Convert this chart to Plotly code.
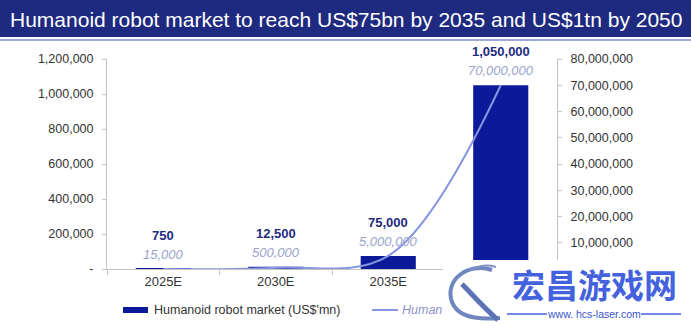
import plotly.graph_objects as go

# Chart data
years = ["2025E", "2030E", "2035E", "2050E"]
market_usd_mn = [750, 12500, 75000, 1050000]
shipments_units = [15000, 500000, 5000000, 70000000]

# category labels along the bottom; the last one sits under the logo panel
year_tick_text = ["2025E", "2030E", "2035E", ""]
left_ticks = [0, 200000, 400000, 600000, 800000, 1000000, 1200000]
left_tick_text = ["-", "200,000", "400,000", "600,000", "800,000", "1,000,000", "1,200,000"]
right_ticks = [10000000, 20000000, 30000000, 40000000, 50000000, 60000000, 70000000, 80000000]
right_tick_text = [f"{v:,}" for v in right_ticks]

title_text = "Humanoid robot market to reach US$75bn by 2035 and US$1tn by 2050"
bar_name = "Humanoid robot market (US$'mn)"
line_name = "Humanoid robot shipments (units)"

W, H = 691, 326
L, R, T, B = 107, 134, 59, 57
PW, PH = W - L - R, H - T - B

NAVY = "#1e2a80"
BAR = "#0c1a99"
LINE = "#8796e0"
LABEL_SHIP = "#9aa3cc"
AXIS = "#c4c4c4"
TXT = "#333333"
MARK_BLUE = "#4462de"
FONT = "Liberation Sans, Arial, sans-serif"


def px(x):
    return (x - L) / PW


def py(y):
    return (H - B - y) / PH


fig = go.Figure()

fig.add_trace(go.Bar(
    x=years, y=market_usd_mn, name=bar_name,
    marker=dict(color=BAR, line=dict(width=0)),
    width=0.49, yaxis="y", showlegend=False,
))

fig.add_trace(go.Scatter(
    x=years, y=shipments_units, name=line_name, mode="lines",
    line=dict(color=LINE, width=2, shape="spline", smoothing=1.0),
    yaxis="y2", showlegend=False, cliponaxis=False,
))

annotations = []
# value labels above each bar
for yr, mv, sv in zip(years, market_usd_mn, shipments_units):
    annotations.append(dict(
        x=yr, y=mv, xref="x", yref="y", text=f"<b>{mv:,}</b>",
        showarrow=False, yanchor="bottom", yshift=24,
        font=dict(family=FONT, size=13, color="#1f2b80"),
    ))
    annotations.append(dict(
        x=yr, y=mv, xref="x", yref="y", text=f"<i>{sv:,}</i>",
        showarrow=False, yanchor="bottom", yshift=5,
        font=dict(family=FONT, size=13, color=LABEL_SHIP),
    ))

# title
annotations.append(dict(
    x=px(8), y=py(19), xref="paper", yref="paper", text=title_text,
    showarrow=False, xanchor="left", yanchor="middle",
    font=dict(family=FONT, size=21, color="white"),
))

# legend entries; only the first word of the second label shows before the logo panel
annotations.append(dict(
    x=px(152), y=py(310), xref="paper", yref="paper", text=bar_name,
    showarrow=False, xanchor="left", yanchor="middle",
    font=dict(family=FONT, size=12.5, color=TXT),
))
annotations.append(dict(
    x=px(400), y=py(310), xref="paper", yref="paper", text=f"<i>{line_name[:5]}</i>",
    showarrow=False, xanchor="left", yanchor="middle", align="left",
    font=dict(family=FONT, size=12.5, color="#8a92c4"),
))

# site mark in the lower right corner
annotations.append(dict(
    x=px(594), y=py(284), xref="paper", yref="paper", text="<b>宏昌游戏网</b>",
    showarrow=False, xanchor="center", yanchor="middle",
    font=dict(family="Noto Sans CJK SC", size=33, color=MARK_BLUE),
))
annotations.append(dict(
    x=px(594), y=py(314), xref="paper", yref="paper", text="www. hcs-laser.com",
    showarrow=False, xanchor="center", yanchor="middle",
    font=dict(family=FONT, size=10.5, color="#3b55c8"),
))

shapes = [
    dict(type="rect", xref="paper", yref="paper", x0=px(0), x1=px(W), y0=py(37), y1=py(0),
         fillcolor=NAVY, line=dict(width=0), layer="below"),
    dict(type="line", xref="paper", yref="paper", x0=px(0), x1=px(W), y0=py(40), y1=py(40),
         line=dict(color="#7d8cc4", width=1.5), layer="below"),
    # legend swatches
    dict(type="rect", xref="paper", yref="paper", x0=px(123), x1=px(148), y0=py(313), y1=py(307),
         fillcolor=BAR, line=dict(width=0), layer="below"),
    dict(type="line", xref="paper", yref="paper", x0=px(372), x1=px(398), y0=py(310), y1=py(310),
         line=dict(color=LINE, width=2), layer="below"),
    # white panel behind the site mark
    dict(type="rect", xref="paper", yref="paper", x0=px(443), x1=px(W + 2), y0=py(H + 2), y1=py(260),
         fillcolor="white", line=dict(width=0), layer="above"),
    # rules either side of the web address
    dict(type="line", xref="paper", yref="paper", x0=px(507), x1=px(547), y0=py(314), y1=py(314),
         line=dict(color=MARK_BLUE, width=1.5), layer="above"),
    dict(type="line", xref="paper", yref="paper", x0=px(641), x1=px(681), y0=py(314), y1=py(314),
         line=dict(color=MARK_BLUE, width=1.5), layer="above"),
    # stylised dragon emblem
    dict(type="path", xref="paper", yref="paper", layer="above",
         path=(f"M {px(492)} {py(270)} C {px(468)} {py(262)}, {px(444)} {py(280)}, {px(452)} {py(302)} "
               f"C {px(458)} {py(318)}, {px(478)} {py(320)}, {px(500)} {py(318)}"),
         line=dict(color="#6f86c0", width=4)),
    dict(type="path", xref="paper", yref="paper", layer="above",
         path=(f"M {px(462)} {py(284)} C {px(470)} {py(292)}, {px(480)} {py(304)}, {px(498)} {py(320)}"),
         line=dict(color="#5d72b4", width=5)),
    dict(type="path", xref="paper", yref="paper", layer="above",
         path=(f"M {px(470)} {py(270)} C {px(476)} {py(266)}, {px(486)} {py(264)}, {px(496)} {py(267)}"),
         line=dict(color="#8092c4", width=2)),
]

fig.update_layout(
    width=W, height=H,
    margin=dict(l=L, r=R, t=T, b=B, pad=0),
    paper_bgcolor="white", plot_bgcolor="white",
    font=dict(family=FONT, size=13, color=TXT),
    showlegend=False,
    bargap=0.5,
    xaxis=dict(
        type="category", showline=True, linecolor=AXIS, linewidth=1,
        tickvals=years, ticktext=year_tick_text,
        ticks="outside", tickson="boundaries", ticklen=5, tickcolor=AXIS,
        showgrid=False, tickfont=dict(size=13, color=TXT), fixedrange=True,
    ),
    yaxis=dict(
        range=[0, 1200000], tickvals=left_ticks, ticktext=left_tick_text,
        showline=True, linecolor=AXIS, linewidth=1, ticks="outside", ticklen=4,
        tickcolor=AXIS, showgrid=False, zeroline=False, ticklabelstandoff=6,
        tickfont=dict(size=12.5, color=TXT),
    ),
    yaxis2=dict(
        range=[0, 80000000], tickvals=right_ticks, ticktext=right_tick_text,
        overlaying="y", side="right", showline=True, linecolor=AXIS, linewidth=1,
        ticks="outside", ticklen=4, tickcolor=AXIS, showgrid=False, zeroline=False,
        ticklabelstandoff=6, tickfont=dict(size=12.5, color=TXT),
    ),
    annotations=annotations,
    shapes=shapes,
)

fig.write_html("out.html")
